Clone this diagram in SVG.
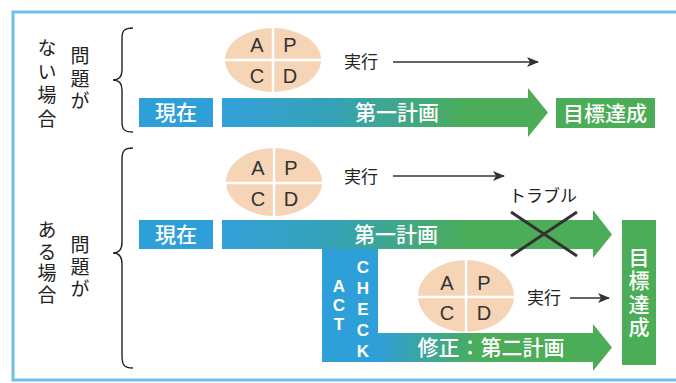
<svg xmlns="http://www.w3.org/2000/svg" width="676" height="383" viewBox="0 0 676 383">
  <style>
    .jp { font-family: "Noto Sans CJK JP", "Noto Sans", sans-serif; }
    .lbl { font-size: 19px; fill: #222; }
    .vt { writing-mode: vertical-rl; text-anchor: start; }
    .wt { fill: #ffffff; font-size: 21px; text-anchor: middle; font-weight: 500; }
    .pdca { font-family: "Liberation Sans", Arial, sans-serif; font-size: 20px; fill: #333; text-anchor: middle; }
    .exec { font-size: 17px; fill: #222; }
    .brace { fill: none; stroke: #222; stroke-width: 1.4; }
    .conn { fill: none; stroke: #333; stroke-width: 1.4; }
    .ell { fill: #f6d4b6; }
    .cross { stroke: #ffffff; stroke-width: 2.5; }
    .ltr { font-family: "Liberation Sans", Arial, sans-serif; font-weight: bold; font-size: 17px; fill: #ffffff; writing-mode: vertical-rl; text-orientation: upright; text-anchor: start; }
    .blue { fill: #2f9fd9; }
    .green { fill: #4bad57; }
  </style>
  <defs>
    <linearGradient id="g1" gradientUnits="userSpaceOnUse" x1="222" y1="0" x2="470" y2="0">
      <stop offset="0" stop-color="#33a0da"/>
      <stop offset="0.45" stop-color="#35a2b6"/>
      <stop offset="1" stop-color="#4bad57"/>
    </linearGradient>
    <linearGradient id="g2" gradientUnits="userSpaceOnUse" x1="378" y1="0" x2="480" y2="0">
      <stop offset="0" stop-color="#2f9fd9"/>
      <stop offset="1" stop-color="#4bad57"/>
    </linearGradient>
    <marker id="ah" viewBox="0 0 12 10" refX="11" refY="5" markerWidth="12" markerHeight="10" markerUnits="userSpaceOnUse" orient="auto">
      <path d="M0,0 L12,5 L0,10 L3,5 Z" fill="#333"/>
    </marker>
  </defs>

  <rect x="0" y="0" width="676" height="383" fill="#ffffff"/>
  <!-- frame -->
  <rect x="13" y="12" width="690" height="368" fill="none" stroke="#6dc1e9" stroke-width="3"/>

  <!-- top case label -->
  <g id="label-top" class="jp lbl">
    <text class="vt" x="47" y="38.5" letter-spacing="4.5">ない場合</text>
    <text class="vt" x="80" y="46.5" letter-spacing="3.5">問題が</text>
  </g>
  <g id="brace-top">
    <path class="brace" d="M133,28 C124,28 122,31 122,38 L122,70 C122,77 119,80 113,80 C119,80 122,83 122,90 L122,122 C122,129 124,132 133,132"/>
  </g>

  <!-- bottom case label -->
  <g id="label-bottom" class="jp lbl">
    <text class="vt" x="47" y="220.5" letter-spacing="2.5">ある場合</text>
    <text class="vt" x="80" y="235.5" letter-spacing="3">問題が</text>
  </g>
  <g id="brace-bottom">
    <path class="brace" d="M133,148 C124,148 122,151 122,160 L122,242 C122,249 119,253 113,253 C119,253 122,257 122,264 L122,356 C122,365 124,368 133,368"/>
  </g>

  <!-- top row -->
  <g id="pdca-top">
    <ellipse class="ell" cx="273" cy="60" rx="48" ry="32"/>
    <line class="cross" x1="273" y1="28" x2="273" y2="92"/>
    <line class="cross" x1="225" y1="60" x2="321" y2="60"/>
    <text class="pdca" x="257" y="52">A</text>
    <text class="pdca" x="290" y="52">P</text>
    <text class="pdca" x="257" y="83">C</text>
    <text class="pdca" x="290" y="83">D</text>
  </g>
  <g id="now-top">
    <rect class="blue" x="139" y="98" width="74" height="29"/>
    <text class="jp wt" x="176" y="120">現在</text>
  </g>
  <g id="plan1-top">
    <path d="M222,98 L528,98 L528,88 L548,112.5 L528,137 L528,127 L222,127 Z" fill="url(#g1)"/>
    <text class="jp wt" x="397" y="120">第一計画</text>
  </g>
  <g id="goal-top">
    <rect class="green" x="556" y="98" width="99" height="30"/>
    <text class="jp wt" x="605" y="121">目標達成</text>
  </g>
  <g id="exec-top">
    <text class="jp exec" x="344" y="68">実行</text>
  </g>

  <!-- bottom row -->
  <g id="pdca-bottom1">
    <ellipse class="ell" cx="274" cy="182" rx="48" ry="34"/>
    <line class="cross" x1="274" y1="148" x2="274" y2="216"/>
    <line class="cross" x1="226" y1="183" x2="322" y2="183"/>
    <text class="pdca" x="258" y="175">A</text>
    <text class="pdca" x="291" y="175">P</text>
    <text class="pdca" x="258" y="206">C</text>
    <text class="pdca" x="291" y="206">D</text>
  </g>
  <g id="exec-bottom1">
    <text class="jp exec" x="344" y="183">実行</text>
  </g>
  <g id="trouble">
    <text class="jp exec" x="543" y="202" text-anchor="middle" font-size="18">トラブル</text>
  </g>
  <g id="now-bottom">
    <rect class="blue" x="139" y="220" width="74" height="29"/>
    <text class="jp wt" x="176" y="242">現在</text>
  </g>
  <g id="plan1-bottom">
    <path d="M222,220 L593,220 L593,210 L612,234.5 L593,258 L593,249 L222,249 Z" fill="url(#g1)"/>
    <text class="jp wt" x="396" y="242">第一計画</text>
  </g>
  <g id="act-check">
    <rect class="blue" x="322" y="249" width="56" height="113"/>
    <text class="ltr" x="339" y="277">ACT</text>
    <text class="ltr" x="363" y="258" letter-spacing="2">CHECK</text>
  </g>
  <g id="plan2">
    <path d="M378,333 L593,333 L593,324 L612,347.5 L593,371 L593,362 L378,362 Z" fill="url(#g2)"/>
    <text class="jp wt" x="491" y="355" font-size="22">修正：第二計画</text>
  </g>
  <g id="pdca-bottom2">
    <ellipse class="ell" cx="466" cy="296" rx="48" ry="36"/>
    <line class="cross" x1="466" y1="260" x2="466" y2="332"/>
    <line class="cross" x1="418" y1="297" x2="514" y2="297"/>
    <text class="pdca" x="447" y="290">A</text>
    <text class="pdca" x="484" y="290">P</text>
    <text class="pdca" x="447" y="320">C</text>
    <text class="pdca" x="484" y="320">D</text>
  </g>
  <g id="exec-bottom2">
    <text class="jp exec" x="527" y="304">実行</text>
  </g>
  <g id="goal-bottom">
    <rect class="green" x="622" y="220" width="34" height="145"/>
    <text class="jp vt" x="639" y="246.5" font-size="21" fill="#ffffff" font-weight="500" letter-spacing="2.3">目標達成</text>
  </g>

  <g id="connectors">
    <line class="conn" x1="393" y1="62" x2="538" y2="62" marker-end="url(#ah)"/>
    <line class="conn" x1="393" y1="176" x2="504" y2="176" marker-end="url(#ah)"/>
    <line class="conn" x1="570" y1="298" x2="609" y2="298" marker-end="url(#ah)"/>
    <line x1="511" y1="212" x2="577" y2="256" stroke="#333" stroke-width="3"/>
    <line x1="577" y1="212" x2="511" y2="256" stroke="#333" stroke-width="3"/>
  </g>
</svg>
